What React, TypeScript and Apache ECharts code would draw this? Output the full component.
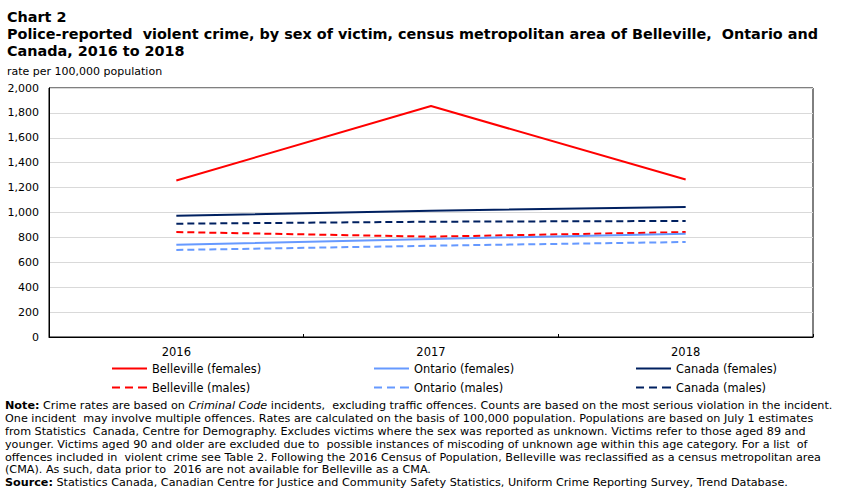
import React, { useEffect, useRef } from "react";
import * as echarts from "echarts";

const years = ["2016", "2017", "2018"];
const bellevilleFemales = [1257, 1855, 1265];
const ontarioFemales = [741, 787, 830];
const canadaFemales = [974, 1015, 1044];
const bellevilleMales = [843, 806, 843];
const ontarioMales = [699, 733, 763];
const canadaMales = [910, 926, 932];

const RED = "#ff0000";
const LIGHT_BLUE = "#6699ff";
const NAVY = "#002060";

const noteLines = [
  "{b|Note:} Crime rates are based on {i|Criminal Code} incidents,  excluding traffic offences. Counts are based on the most serious violation in the incident.",
  "One incident  may involve multiple offences. Rates are calculated on the basis of 100,000 population. Populations are based on July 1 estimates",
  "from Statistics  Canada, Centre for Demography. Excludes victims where the sex was reported as unknown. Victims refer to those aged 89 and",
  "younger. Victims aged 90 and older are excluded due to  possible instances of miscoding of unknown age within this age category. For a list  of",
  "offences included in  violent crime see Table 2. Following the 2016 Census of Population, Belleville was reclassified as a census metropolitan area",
  "(CMA). As such, data prior to  2016 are not available for Belleville as a CMA.",
  "{b|Source:} Statistics Canada, Canadian Centre for Justice and Community Safety Statistics, Uniform Crime Reporting Survey, Trend Database.",
];

const FONT = "'DejaVu Sans', Verdana, sans-serif";

// legend swatches: a solid bar and a three-dash bar
const SOLID_ICON = "path://M0,0h35v2h-35z";
const DASH_ICON = "path://M0,0h8v2h-8z M13,0h8v2h-8z M26,0h9v2h-9z";

export default function App() {
  const ref = useRef<HTMLDivElement>(null);

  useEffect(() => {
    document.body.style.margin = "0";
    if (!ref.current) return;
    const chart = echarts.init(ref.current, null, { renderer: "svg" });

    const mk = (name: string, data: number[], color: string, dashed: boolean) => ({
      name,
      type: "line",
      data,
      symbol: "none",
      lineStyle: { color, width: 2, type: dashed ? [7, 4] : "solid" },
      itemStyle: { color },
      z: dashed ? 2 : 3,
    });

    const series = [
      mk("Belleville (females)", bellevilleFemales, RED, false),
      mk("Ontario (females)", ontarioFemales, LIGHT_BLUE, false),
      mk("Canada (females)", canadaFemales, NAVY, false),
      mk("Belleville (males)", bellevilleMales, RED, true),
      mk("Ontario (males)", ontarioMales, LIGHT_BLUE, true),
      mk("Canada (males)", canadaMales, NAVY, true),
    ];

    const legendCols = [112, 374, 636];
    const legendRows = [363, 382];
    const legends = series.map((s, i) => ({
      data: [s.name],
      left: legendCols[i % 3],
      top: legendRows[Math.floor(i / 3)],
      icon: i < 3 ? SOLID_ICON : DASH_ICON,
      itemWidth: 35,
      itemHeight: 2.5,
      itemGap: 4,
      padding: 0,
      selectedMode: false,
      textStyle: { fontFamily: FONT, fontSize: 11.4, color: "#000", padding: [0, 0, 0, 0] },
    }));

    const graphics: any[] = [
      {
        type: "text",
        x: 7,
        y: 17,
        style: { text: "Chart 2", font: `bold 14.4px ${FONT}`, fill: "#000", verticalAlign: "middle" },
      },
      {
        type: "text",
        x: 7,
        y: 34,
        style: {
          text: "Police-reported  violent crime, by sex of victim, census metropolitan area of Belleville,  Ontario and",
          font: `bold 14.4px ${FONT}`,
          fill: "#000",
          verticalAlign: "middle",
        },
      },
      {
        type: "text",
        x: 7,
        y: 51,
        style: { text: "Canada, 2016 to 2018", font: `bold 14.4px ${FONT}`, fill: "#000", verticalAlign: "middle" },
      },
      {
        type: "text",
        x: 7,
        y: 71,
        style: { text: "rate per 100,000 population", font: `11px ${FONT}`, fill: "#000", verticalAlign: "middle" },
      },
    ];
    const noteY = [405, 418.5, 431.5, 444.5, 457.5, 469.5, 482];
    noteLines.forEach((t, i) => {
      graphics.push({
        type: "text",
        x: 5,
        y: noteY[i],
        style: {
          text: t,
          fontFamily: FONT,
          fontSize: 11.2,
          fill: "#000",
          verticalAlign: "middle",
          rich: {
            b: { fontWeight: "bold", fontFamily: FONT, fontSize: 11.2, fill: "#000" },
            i: { fontStyle: "italic", fontFamily: FONT, fontSize: 11.2, fill: "#000" },
          },
        },
      });
    });

    chart.setOption({
      animation: false,
      backgroundColor: "#fff",
      grid: {
        left: 49,
        right: 38,
        top: 88,
        bottom: 161,
        show: true,
        borderColor: "#000",
        borderWidth: 1,
        backgroundColor: "transparent",
      },
      xAxis: {
        type: "category",
        data: years,
        boundaryGap: true,
        axisLine: { lineStyle: { color: "#000", width: 1 } },
        axisTick: { show: true, inside: true, length: 3, lineStyle: { color: "#000" } },
        axisLabel: { fontFamily: FONT, fontSize: 11.5, color: "#000", margin: 9 },
        splitLine: { show: false },
      },
      yAxis: {
        type: "value",
        min: 0,
        max: 2000,
        interval: 200,
        axisLine: { show: true, lineStyle: { color: "#000" } },
        axisTick: { show: false },
        axisLabel: {
          fontFamily: FONT,
          fontSize: 11,
          color: "#000",
          margin: 10,
          formatter: (v: number) => v.toLocaleString("en-US"),
        },
        splitLine: { lineStyle: { color: "#d9d9d9", width: 1 } },
      },
      legend: legends,
      series,
      graphic: graphics,
    });

    return () => chart.dispose();
  }, []);

  return <div ref={ref} style={{ width: 851, height: 498 }} />;
}
